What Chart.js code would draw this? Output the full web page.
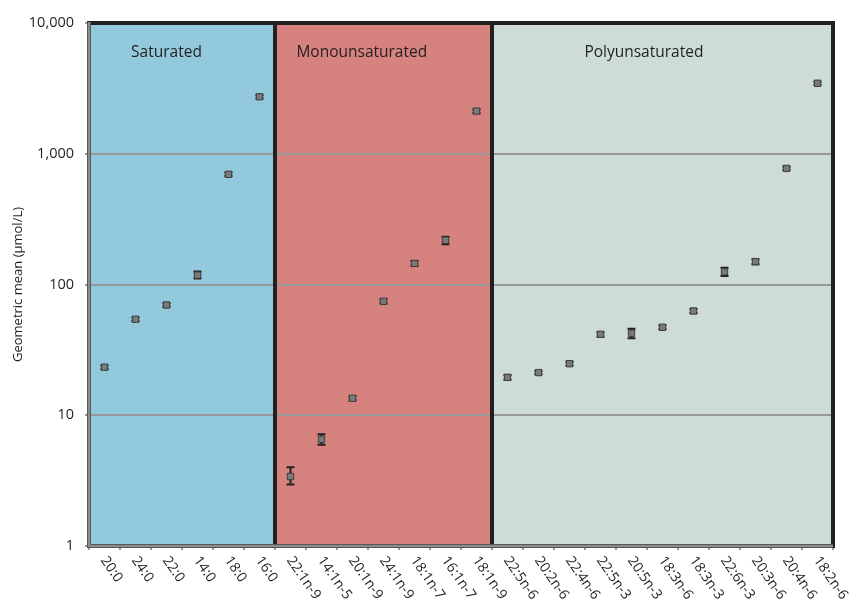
<!DOCTYPE html>
<html>
<head>
<meta charset="utf-8">
<script src="https://cdn.jsdelivr.net/npm/chart.js@4"></script>
<style>
  html, body { margin: 0; padding: 0; background: #fff; }
  #wrap { width: 851px; height: 609px; }
</style>
</head>
<body>
<div id="wrap"><canvas id="chart" width="851" height="609"></canvas></div>
<script>
const fattyAcids = ['20:0', '24:0', '22:0', '14:0', '18:0', '16:0',
    '22:1n-9', '14:1n-5', '20:1n-9', '24:1n-9', '18:1n-7', '16:1n-7', '18:1n-9',
    '22:5n-6', '20:2n-6', '22:4n-6', '22:5n-3', '20:5n-3', '18:3n-6', '18:3n-3',
    '22:6n-3', '20:3n-6', '20:4n-6', '18:2n-6'];
const geoMean = [23.3, 54.2, 69.7, 118, 696, 2730,
    3.4, 6.55, 13.5, 74.4, 145, 218, 2120,
    19.5, 21.2, 24.8, 41.6, 42.4, 47.1, 62.7, 125, 149.5, 773, 3459];
const ciLow = [22.6, 52.5, 67.5, 111, 675, 2650,
    2.95, 5.95, 13.0, 71.5, 139, 203, 2050,
    18.7, 20.6, 24.0, 40.0, 38.8, 45.5, 60.5, 116, 143, 750, 3360];
const ciHigh = [24.0, 56, 72, 126, 718, 2810,
    4.0, 7.15, 14.0, 77.5, 151, 232, 2190,
    20.3, 21.8, 25.6, 43.2, 45.9, 48.7, 65, 134.5, 156, 796, 3560];
const groupNames = ['Saturated', 'Monounsaturated', 'Polyunsaturated'];
const groupFirst = [0, 6, 13];
const groupLast = [5, 12, 23];
const groupColors = ['#92c9dc', '#d6837f', '#cddcd6'];
const yTicks = [1, 10, 100, 1000, 10000];

const textColor = '#231f20';
const fontFamily = '"Open Sans", "Noto Sans", sans-serif';

// coloured group panels behind the grid
const panelPlugin = {
    id: 'panels',
    beforeDraw(chart) {
        const { ctx, chartArea, scales } = chart;
        const x = scales.x;
        ctx.save();
        groupNames.forEach((name, g) => {
            const left = x.getPixelForValue(groupFirst[g] - 0.5);
            const right = x.getPixelForValue(groupLast[g] + 0.5);
            ctx.fillStyle = groupColors[g];
            ctx.fillRect(left, chartArea.top, right - left, chartArea.bottom - chartArea.top);
        });
        ctx.restore();
    },
    beforeDatasetsDraw(chart) {
        const { ctx, chartArea, scales } = chart;
        const x = scales.x, y = scales.y;
        ctx.save();
        // panel outlines
        ctx.strokeStyle = textColor;
        ctx.lineWidth = 4;
        groupNames.forEach((name, g) => {
            const left = x.getPixelForValue(groupFirst[g] - 0.5);
            const right = x.getPixelForValue(groupLast[g] + 0.5);
            ctx.strokeRect(left, chartArea.top, right - left, chartArea.bottom - chartArea.top);
        });
        // grey axis lines on left and bottom
        ctx.strokeStyle = '#8c8c8c';
        ctx.lineWidth = 3;
        ctx.beginPath();
        ctx.moveTo(chartArea.left, chartArea.top - 1);
        ctx.lineTo(chartArea.left, chartArea.bottom);
        ctx.lineTo(chartArea.right, chartArea.bottom);
        ctx.stroke();
        // group titles
        ctx.fillStyle = textColor;
        ctx.font = '15.5px ' + fontFamily;
        ctx.textAlign = 'center';
        ctx.textBaseline = 'middle';
        const titleCenters = [2.0, 8.3, 17.4];
        groupNames.forEach((name, g) => {
            ctx.fillText(name, x.getPixelForValue(titleCenters[g]), chartArea.top + 30);
        });
        // error bars (under markers)
        ctx.strokeStyle = textColor;
        ctx.lineWidth = 2;
        geoMean.forEach((v, i) => {
            const px = x.getPixelForValue(i);
            const yl = y.getPixelForValue(ciLow[i]);
            const yh = y.getPixelForValue(ciHigh[i]);
            ctx.beginPath();
            ctx.moveTo(px, yl);
            ctx.lineTo(px, yh);
            ctx.moveTo(px - 4, yl);
            ctx.lineTo(px + 4, yl);
            ctx.moveTo(px - 4, yh);
            ctx.lineTo(px + 4, yh);
            ctx.stroke();
        });
        ctx.restore();
    },
    afterDraw(chart) {
        // rotated category labels, reading downwards to the right
        const { ctx, chartArea, scales } = chart;
        const x = scales.x;
        ctx.save();
        ctx.fillStyle = textColor;
        ctx.font = '14px ' + fontFamily;
        ctx.textAlign = 'left';
        ctx.textBaseline = 'middle';
        fattyAcids.forEach((label, i) => {
            ctx.save();
            ctx.translate(x.getPixelForValue(i) - 1, chartArea.bottom + 12);
            ctx.rotate(55 * Math.PI / 180);
            ctx.fillText(label, 0, 0);
            ctx.restore();
        });
        ctx.restore();
    }
};

new Chart(document.getElementById('chart').getContext('2d'), {
    type: 'line',
    data: {
        labels: fattyAcids,
        datasets: [{
            data: geoMean,
            showLine: false,
            pointStyle: 'rect',
            pointRadius: 4.5,
            pointHoverRadius: 4.5,
            pointBackgroundColor: '#7a7a7a',
            pointBorderColor: '#3d3d3d',
            pointBorderWidth: 1
        }]
    },
    options: {
        responsive: false,
        animation: false,
        layout: { padding: { top: 23, right: 18, left: 0, bottom: 0 } },
        plugins: {
            legend: { display: false },
            tooltip: { enabled: false }
        },
        scales: {
            x: {
                type: 'category',
                offset: true,
                border: { display: false },
                grid: {
                    offset: true,
                    drawOnChartArea: false,
                    drawTicks: true,
                    tickLength: 4,
                    color: '#9a9a9a',
                    lineWidth: 2
                },
                ticks: { display: false },
                afterFit(scale) { scale.height = 63; }
            },
            y: {
                type: 'logarithmic',
                min: 1,
                max: 10000,
                border: { display: false },
                afterBuildTicks(scale) {
                    scale.ticks = yTicks.map(v => ({ value: v }));
                },
                grid: {
                    color: '#999999',
                    lineWidth: 2,
                    tickLength: 4
                },
                ticks: {
                    color: textColor,
                    font: { family: fontFamily, size: 14.5 },
                    padding: 11,
                    callback: v => v.toLocaleString('en-US')
                },
                title: {
                    display: true,
                    text: 'Geometric mean (µmol/L)',
                    color: textColor,
                    font: { family: fontFamily, size: 13 },
                    padding: { top: 10, bottom: 4 }
                },
                afterFit(scale) { scale.width = 89; }
            }
        }
    },
    plugins: [panelPlugin]
});
</script>
</body>
</html>
